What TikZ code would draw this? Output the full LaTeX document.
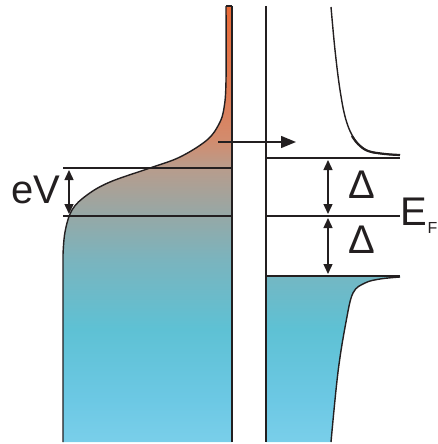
\documentclass[tikz,border=0pt]{standalone}
\usepackage{fontspec}
\setmainfont{Liberation Sans}
\usetikzlibrary{arrows.meta}
\definecolor{lineclr}{HTML}{231F20}
\definecolor{c0}{HTML}{7ACFEA}
\definecolor{c1}{HTML}{6CC8E4}
\definecolor{c2}{HTML}{5EC1D4}
\definecolor{c3}{HTML}{7AB4BE}
\definecolor{c4}{HTML}{96A8A6}
\definecolor{c5}{HTML}{B89C8C}
\definecolor{c6}{HTML}{D28C6E}
\definecolor{c7}{HTML}{DE7C56}
\definecolor{c8}{HTML}{EA6A36}
\pgfdeclareverticalshading{dosshade}{100bp}{%
  color(0bp)=(c0);
  color(25bp)=(c0);
  color(30bp)=(c1);
  color(38bp)=(c2);
  color(45.7bp)=(c3);
  color(50.8bp)=(c4);
  color(56.1bp)=(c5);
  color(59.2bp)=(c6);
  color(64bp)=(c7);
  color(75bp)=(c8);
  color(100bp)=(c8)}
\tikzset{
  hline/.style={draw=lineclr, line width=1.8pt},
  vline/.style={draw=lineclr, line width=1.5pt},
  curveline/.style={draw=lineclr, line width=1.4pt},
  dblarrow/.style={draw=lineclr, line width=1.4pt, {Triangle[length=10pt,width=9pt]}-{Triangle[length=10pt,width=9pt]}},
  sglarrow/.style={draw=lineclr, line width=1.4pt, -{Triangle[length=15pt,width=12pt]}},
  biglabel/.style={inner sep=0pt, text=lineclr, font=\fontsize{40}{48}\selectfont},
  sublabel/.style={inner sep=0pt, text=lineclr, font=\fontsize{16}{20}\selectfont}
}
\begin{document}
\begin{tikzpicture}[x=1pt, y=-1pt]
\useasboundingbox (0,0) rectangle (438,444);
% left metal DOS (filled)
\begin{scope}
  \clip plot[smooth, tension=0.6] coordinates {(226,6) (226,80) (224,108) (219,124) (207,140) (180,157) (150,168) (110,182) (87,195) (72,210) (65,232) (63,255)} -- (63,442) -- (232,442) -- (232,6) -- cycle;
  \shade[shading=dosshade] (0,0) rectangle (438,444);
\end{scope}
% right superconductor lower band (filled)
\begin{scope}
  \clip (266,276) -- (400,276) -- plot[smooth, tension=0.6] coordinates {(400,277) (380,279) (365,283) (353,293) (346,322) (338,372) (331,442)} -- (266,442) -- cycle;
  \shade[shading=dosshade] (0,0) rectangle (438,444);
\end{scope}
% curves
\draw[curveline] plot[smooth, tension=0.6] coordinates {(226,6) (226,80) (224,108) (219,124) (207,140) (180,157) (150,168) (110,182) (87,195) (72,210) (65,232) (63,255)} -- (63,442);
\draw[curveline] plot[smooth, tension=0.6] coordinates {(331,7) (335,50) (340,90) (346,120) (355,140) (368,151) (385,154) (400,155)};
\draw[draw=lineclr, line width=2.2pt] plot[smooth, tension=0.6] coordinates {(352,136) (358,144) (368,151) (385,154) (400,155)};
\draw[curveline] plot[smooth, tension=0.6] coordinates {(400,277) (380,279) (365,283) (353,293) (346,322) (338,372) (331,442)};
\draw[curveline] (226,6) -- (232,6);
% coordinates
\coordinate (lt) at (232,6);
\coordinate (lb) at (232,442);
\coordinate (rt) at (266,6);
\coordinate (rb) at (266,442);
\coordinate (evtl) at (63,168);
\coordinate (evtr) at (232,168);
\coordinate (efl) at (63,216);
\coordinate (efr) at (232,216);
\coordinate (gtl) at (266,158);
\coordinate (gtr) at (400,158);
\coordinate (sefl) at (266,216);
\coordinate (sefr) at (400,216);
\coordinate (gbl) at (266,276);
\coordinate (gbr) at (400,276);
\coordinate (tun1) at (218,142);
\coordinate (tun2) at (296,142);
\coordinate (ev1) at (69,170);
\coordinate (ev2) at (69,214);
\coordinate (d1a) at (328,160);
\coordinate (d1b) at (328,214);
\coordinate (d2a) at (328,218);
\coordinate (d2b) at (328,274);
% vertical lines
\draw[vline] (lt) -- (lb);
\draw[vline] (rt) -- (rb);
% horizontal lines
\draw[hline] (evtl) -- (evtr);
\draw[hline] (efl) -- (efr);
\draw[hline] (gtl) -- (gtr);
\draw[hline] (sefl) -- (sefr);
\draw[hline] (gbl) -- (gbr);
% arrows
\draw[sglarrow] (tun1) -- (tun2);
\draw[dblarrow] (ev1) -- (ev2);
\draw[dblarrow] (d1a) -- (d1b);
\draw[dblarrow] (d2a) -- (d2b);
% labels
\node[biglabel, anchor=base west] (evlab) at (11,203) {eV};
\node[biglabel, anchor=base] (dlab1) at (362,198) {Δ};
\node[biglabel, anchor=base] (dlab2) at (362,253) {Δ};
\node[biglabel, anchor=base west] (eflab) at (400,225) {E};
\node[sublabel, anchor=base west] (efsub) at (427.5,233) {F};
\end{tikzpicture}
\end{document}
